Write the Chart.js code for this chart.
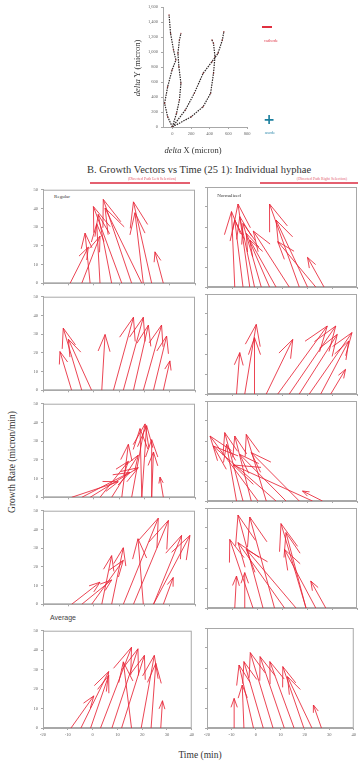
<!DOCTYPE html>
<html>
<head>
<meta charset="utf-8">
<script src="https://cdn.jsdelivr.net/npm/chart.js@4.4.1/dist/chart.umd.min.js"></script>
<style>
    body { margin: 0; width: 358px; height: 768px; background: #fff; position: relative; overflow: hidden; font-family: 'Liberation Serif', serif; color: #333; }
    canvas { position: absolute; }
    .t { position: absolute; white-space: nowrap; transform: translate(-50%, -50%); }
    .rot { transform: translate(-50%, -50%) rotate(-90deg); }
</style>
</head>
<body>
<canvas id="track" width="125" height="140" style="left:130px;top:0px;"></canvas>

<div class="t rot" style="left:137px;top:68px;font-size:8.5px;"><i>delta</i> Y (micron)</div>
<div class="t" style="left:193px;top:150px;font-size:8.5px;"><i>delta</i> X (micron)</div>
<div class="t" style="left:199px;top:169px;font-size:10.5px;">B. Growth Vectors vs Time (25 1): Individual hyphae</div>

<div style="position:absolute;left:262px;top:26px;width:10px;height:2px;background:#e03040;"></div>
<div class="t" style="left:271px;top:40px;font-size:4.5px;color:#e04050;">cathode</div>
<div class="t" style="left:269px;top:119px;font-size:14px;font-weight:bold;color:#1b7f9e;font-family:'DejaVu Sans';">+</div>
<div class="t" style="left:270px;top:132px;font-size:4.5px;color:#3a8fb0;">anode</div>

<div style="position:absolute;left:90px;top:182px;width:100px;height:2px;background:#e46070;"></div>
<div class="t" style="left:152px;top:178px;font-size:4px;color:#e46070;">(Directed Path Left Selection)</div>
<div style="position:absolute;left:260px;top:182px;width:98px;height:2px;background:#e46070;"></div>
<div class="t" style="left:322px;top:178px;font-size:4px;color:#e46070;">(Directed Path Right Selection)</div>

<div class="t" style="left:62px;top:196px;font-size:5px;">Regular</div>
<div class="t" style="left:229px;top:195px;font-size:5px;">Normalized</div>
<div class="t" style="left:63px;top:617px;font-size:7px;color:#444;font-family:'Liberation Sans';">Average</div>
<div class="t rot" style="left:12px;top:462px;font-size:9.5px;">Growth Rate (micron/min)</div>
<div class="t" style="left:200px;top:755px;font-size:9.5px;">Time (min)</div>

<script>
// --- Top panel: hyphal tracks (micron) ---
const TRACK_X_TICKS = [0, 200, 400, 600, 800];
const TRACK_Y_TICKS = [0, 200, 400, 600, 800, 1000, 1200, 1400, 1600];

const TRACK1_X = [0, -50, -83, -50, -3, 38, 13, -19, -35];
const TRACK1_Y = [0, 137, 316, 537, 760, 893, 1027, 1249, 1493];
const TRACK2_X = [0, 45, 76, 92, 70, 60, 76, 92];
const TRACK2_Y = [0, 183, 360, 583, 804, 983, 1160, 1249];
const TRACK3_X = [0, 140, 235, 330, 425, 489, 536, 552];
const TRACK3_Y = [0, 227, 449, 716, 871, 983, 1160, 1271];
const TRACK4_X = [0, 203, 330, 410, 441, 457, 441, 425];
const TRACK4_Y = [0, 137, 271, 449, 716, 938, 1116, 1160];

// --- Growth vector panels: base time, tip time, tip growth rate ---
const RATE_TICKS = [0, 10, 20, 30, 40, 50];
const TIME_TICKS = [-20, -10, 0, 10, 20, 30, 40];

const ROW1_REG_BASE = [-9.3, -4.7, -1.4, 2.5, 7.1, 11.1, 15.0, 19.0, 19.6, 22.9, 27.5];
const ROW1_REG_TIPT = [-2.1, 2.5, -3.4, 1.2, 1.8, -0.1, 3.8, 4.5, 16.3, 15.7, 24.2];
const ROW1_REG_TIPR = [19.3, 25.2, 26.8, 31.8, 36.8, 41, 44.8, 40.2, 37.7, 43.5, 16.8];

const ROW1_NRM_BASE = [-8.9, -5.6, -2.9, -1.0, 1.7, 5.0, 7.6, 12.9, 16.9, 20.2, 23.5, 26.8];
const ROW1_NRM_TIPT = [-10.2, -8.9, -7.6, -6.9, -5.6, -4.3, -2.9, -1.5, 5.0, 7.6, 8.3, 20.2];
const ROW1_NRM_TIPR = [37.7, 33.5, 41.5, 35.2, 31.8, 26.8, 23.5, 28, 41.5, 33.5, 22.7, 14.8];

const ROW2_REG_BASE = [-8.7, -4.7, -0.8, 3.2, 7.8, 11.7, 15.7, 19.6, 23.6, 27.5];
const ROW2_REG_TIPT = [-13.3, -12.0, -10.0, 4.5, 15.7, 19.6, 21.6, 26.8, 28.8, 30.1];
const ROW2_REG_TIPR = [20.7, 33.2, 27.3, 29.8, 39, 39, 34.8, 34.8, 29, 15.7];

const ROW2_NRM_BASE = [-8.2, -4.9, -1.0, 3.7, 8.3, 12.9, 16.9, 20.9, 25.5, 29.5];
const ROW2_NRM_TIPT = [-6.9, -0.3, -1.0, 14.3, 28.1, 31.5, 32.1, 38, 36.7, 35.4];
const ROW2_NRM_TIPR = [20.7, 34.8, 28.2, 27.3, 34, 34, 29.8, 30.7, 26.5, 12.3];

const ROW3_REG_BASE = [-8.7, -4.7, -1.4, 2.5, 7.1, 11.1, 15.0, 19.0, 19.0, 22.9, 22.9, 27.5];
const ROW3_REG_TIPT = [9.7, 14.3, 17.6, 13.7, 17.6, 13.7, 20.3, 20.9, 18.3, 22.9, 23.6, 26.2];
const ROW3_REG_TIPR = [8.3, 13.3, 15.8, 19.2, 22.5, 28.3, 39.2, 38.3, 36.7, 30.8, 24.2, 10.8];

const ROW3_NRM_BASE = [-8.2, -5.6, -2.3, 0.4, 3.7, 7.6, 11.6, 16.9, 22.2, 26.2];
const ROW3_NRM_TIPT = [-12.2, -12.9, -8.9, -18.8, -4.3, -17.5, -6.9, -2.3, -9.5, 18.2];
const ROW3_NRM_TIPR = [28.3, 34.2, 32.5, 32.5, 33.3, 27.5, 23.3, 24.2, 18, 5];

const ROW4_REG_BASE = [-8.7, -4.7, -0.8, 3.2, 7.1, 11.7, 15.7, 19.6, 23.6, 23.6, 27.5];
const ROW4_REG_TIPT = [2.5, 7.1, 11.7, 7.1, 11.7, 25.5, 29.5, 17.5, 34.7, 38, 31.4];
const ROW4_REG_TIPR = [11.8, 13, 23.5, 26, 30.2, 46, 44.8, 35, 36.8, 36.8, 14.3];

const ROW4_NRM_BASE = [-8.9, -4.9, -1.6, 2.4, 7.0, 11.0, 15.6, 19.6, 19.6, 23.5, 27.5];
const ROW4_NRM_TIPT = [-8.2, -4.9, -10.9, -7.6, -2.9, -7.6, -4.3, 9.6, 11.6, 11.0, 21.5];
const ROW4_NRM_TIPR = [16, 17.7, 34.3, 46.5, 45.5, 32.7, 29.3, 42.2, 37.7, 29.3, 13.5];

const AVG_REG_BASE = [-8.7, -4.7, -0.8, 3.2, 7.8, 11.7, 15.7, 19.6, 23.6, 27.5];
const AVG_REG_TIPT = [0.5, 6.5, 6.5, 15.7, 18.3, 20.9, 12.4, 24.9, 25.5, 28.2];
const AVG_REG_TIPR = [16.5, 29, 27, 41.5, 40.7, 37.3, 34, 37.3, 33.2, 14];

const AVG_NRM_BASE = [-8.9, -4.9, -1.0, 3.0, 7.0, 11.6, 15.6, 19.6, 22.9, 26.8];
const AVG_NRM_TIPT = [-8.9, -5.6, -6.9, -4.9, -2.3, 1.7, 5.7, 11.0, 12.9, 23.5];
const AVG_NRM_TIPR = [14.8, 21.5, 31.5, 33.2, 37.7, 35.7, 33.2, 30.7, 25.7, 11.5];

const ARROW_RED = 'rgba(232, 36, 54, 0.85)';
const AXIS_GREY = '#a8a8a8';
const TICK_FONT = { family: 'Liberation Serif', size: 4.5 };

Chart.defaults.font.family = 'Liberation Serif';

// grey box round the plot area
const framePlugin = {
    id: 'frame',
    beforeDatasetsDraw(chart) {
        const a = chart.chartArea, ctx = chart.ctx;
        ctx.save();
        ctx.strokeStyle = AXIS_GREY;
        ctx.lineWidth = 1;
        ctx.strokeRect(a.left + 0.5, a.top + 0.5, a.right - a.left - 1, a.bottom - a.top - 1);
        ctx.restore();
    }
};

// open arrow heads at the tip of each two-point vector, sized from its pixel length
const arrowPlugin = {
    id: 'arrowHeads',
    afterDatasetsDraw(chart) {
        const ctx = chart.ctx;
        chart.data.datasets.forEach((ds, i) => {
            const pts = chart.getDatasetMeta(i).data;
            if (pts.length < 2) return;
            const p0 = pts[0], p1 = pts[1];
            const ang = Math.atan2(p1.y - p0.y, p1.x - p0.x);
            const head = Math.hypot(p1.x - p0.x, p1.y - p0.y) * 0.32;
            ctx.save();
            ctx.strokeStyle = ds.borderColor;
            ctx.lineWidth = 1;
            ctx.beginPath();
            [-0.34, 0.34].forEach(da => {
                ctx.moveTo(p1.x, p1.y);
                ctx.lineTo(p1.x - head * Math.cos(ang + da), p1.y - head * Math.sin(ang + da));
            });
            ctx.stroke();
            ctx.restore();
        });
    }
};

function fixedTicks(list) {
    return axis => { axis.ticks = list.map(v => ({ value: v })); };
}

// --- Track chart ---
function trackSet(xs, ys) {
    return {
        data: xs.map((x, i) => ({ x, y: ys[i] })),
        borderColor: '#2e2626',
        borderWidth: 1.2,
        borderDash: [1.5, 1],
        pointRadius: 0.7,
        pointBackgroundColor: '#8a3030',
        pointBorderWidth: 0,
        fill: false,
        tension: 0,
    };
}

new Chart(document.getElementById('track'), {
    type: 'line',
    data: {
        datasets: [
            trackSet(TRACK1_X, TRACK1_Y),
            trackSet(TRACK2_X, TRACK2_Y),
            trackSet(TRACK3_X, TRACK3_Y),
            trackSet(TRACK4_X, TRACK4_Y),
        ]
    },
    options: {
        responsive: false,
        animation: false,
        events: [],
        layout: { padding: { top: 7, right: 8, left: 0, bottom: 0 } },
        plugins: { legend: { display: false }, tooltip: { enabled: false } },
        scales: {
            x: {
                type: 'linear', min: -100, max: 800,
                afterBuildTicks: fixedTicks(TRACK_X_TICKS),
                afterFit: s => { s.height = 13; },
                ticks: { font: TICK_FONT, color: '#666', padding: 2, maxRotation: 0 },
                grid: { drawOnChartArea: false, tickLength: 2, color: AXIS_GREY },
                border: { color: AXIS_GREY },
            },
            y: {
                type: 'linear', min: 0, max: 1600,
                afterBuildTicks: fixedTicks(TRACK_Y_TICKS),
                afterFit: s => { s.width = 33; },
                ticks: { font: TICK_FONT, color: '#666', padding: 3 },
                grid: { drawOnChartArea: false, tickLength: 2, color: AXIS_GREY },
                border: { color: AXIS_GREY },
            }
        }
    }
});

// --- Growth vector panels ---
function makePanel(side, top, showX, base, tipT, tipR) {
    const c = document.createElement('canvas');
    const left = side === 'left' ? 0 : 200;
    const width = side === 'left' ? 196 : 158;
    const xh = showX ? 14 : 2;
    c.width = width;
    c.height = 3 + 100 + xh;
    c.style.left = left + 'px';
    c.style.top = (top - 3) + 'px';
    document.body.appendChild(c);

    return new Chart(c, {
        type: 'line',
        data: {
            datasets: base.map((b, i) => ({
                data: [{ x: b, y: 0 }, { x: tipT[i], y: tipR[i] }],
                borderColor: ARROW_RED,
                borderWidth: 1,
                pointRadius: 0,
                fill: false,
            }))
        },
        options: {
            responsive: false,
            animation: false,
            events: [],
            layout: { padding: { top: 3, right: 1, left: 0, bottom: 0 } },
            plugins: { legend: { display: false }, tooltip: { enabled: false } },
            scales: {
                x: {
                    type: 'linear', min: -20, max: 40,
                    afterBuildTicks: fixedTicks(TIME_TICKS),
                    afterFit: s => { s.height = xh; },
                    ticks: { display: showX, font: TICK_FONT, color: '#666', padding: 2, maxRotation: 0 },
                    grid: { drawOnChartArea: false, tickLength: 2, color: AXIS_GREY },
                    border: { color: AXIS_GREY },
                },
                y: {
                    type: 'linear', min: 0, max: 50,
                    afterBuildTicks: fixedTicks(RATE_TICKS),
                    afterFit: s => { s.width = side === 'left' ? 43 : 7; },
                    ticks: { display: side === 'left', font: TICK_FONT, color: '#666', padding: 3 },
                    grid: { drawOnChartArea: false, tickLength: 2, color: AXIS_GREY },
                    border: { color: AXIS_GREY },
                }
            }
        },
        plugins: [framePlugin, arrowPlugin]
    });
}

makePanel('left', 187, false, ROW1_REG_BASE, ROW1_REG_TIPT, ROW1_REG_TIPR);
makePanel('right', 187, false, ROW1_NRM_BASE, ROW1_NRM_TIPT, ROW1_NRM_TIPR);
makePanel('left', 294, false, ROW2_REG_BASE, ROW2_REG_TIPT, ROW2_REG_TIPR);
makePanel('right', 294, false, ROW2_NRM_BASE, ROW2_NRM_TIPT, ROW2_NRM_TIPR);
makePanel('left', 401, false, ROW3_REG_BASE, ROW3_REG_TIPT, ROW3_REG_TIPR);
makePanel('right', 401, false, ROW3_NRM_BASE, ROW3_NRM_TIPT, ROW3_NRM_TIPR);
makePanel('left', 508, false, ROW4_REG_BASE, ROW4_REG_TIPT, ROW4_REG_TIPR);
makePanel('right', 508, false, ROW4_NRM_BASE, ROW4_NRM_TIPT, ROW4_NRM_TIPR);
makePanel('left', 628, true, AVG_REG_BASE, AVG_REG_TIPT, AVG_REG_TIPR);
makePanel('right', 628, true, AVG_NRM_BASE, AVG_NRM_TIPT, AVG_NRM_TIPR);
</script>
</body>
</html>
